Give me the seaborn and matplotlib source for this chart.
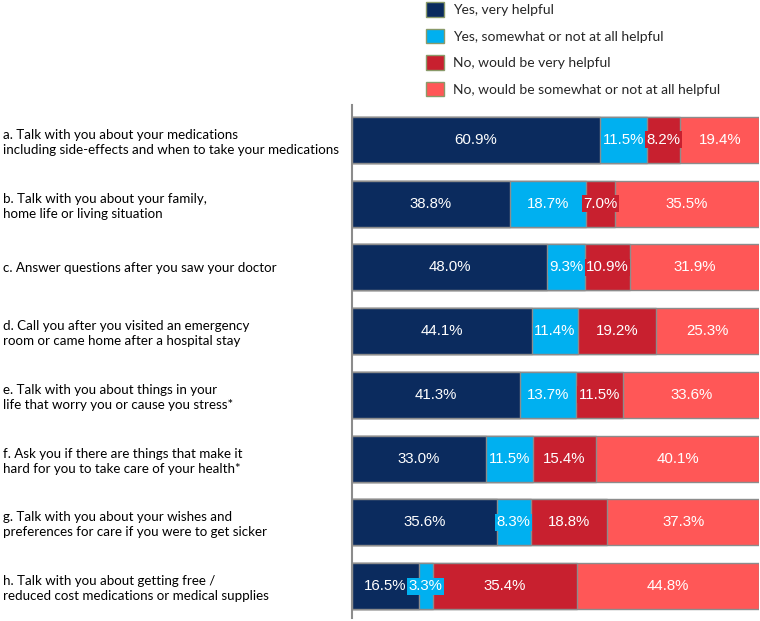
import numpy as np
import pandas as pd
import seaborn as sns
import matplotlib.pyplot as plt
from matplotlib.patches import Patch

questions = [
    'a. Talk with you about your medications\nincluding side-effects and when to take your medications',
    'b. Talk with you about your family,\nhome life or living situation',
    'c. Answer questions after you saw your doctor',
    'd. Call you after you visited an emergency\nroom or came home after a hospital stay',
    'e. Talk with you about things in your\nlife that worry you or cause you stress*',
    'f. Ask you if there are things that make it\nhard for you to take care of your health*',
    'g. Talk with you about your wishes and\npreferences for care if you were to get sicker',
    'h. Talk with you about getting free /\nreduced cost medications or medical supplies',
]
series_names = [
    'Yes, very helpful',
    'Yes, somewhat or not at all helpful',
    'No, would be very helpful',
    'No, would be somewhat or not at all helpful',
]
yes_very = [60.9, 38.8, 48.0, 44.1, 41.3, 33.0, 35.6, 16.5]
yes_somewhat = [11.5, 18.7, 9.3, 11.4, 13.7, 11.5, 8.3, 3.3]
no_very = [8.2, 7.0, 10.9, 19.2, 11.5, 15.4, 18.8, 35.4]
no_somewhat = [19.4, 35.5, 31.9, 25.3, 33.6, 40.1, 37.3, 44.8]

colors = ['#0b2b5e', '#00b0f0', '#c8202f', '#ff5757']

df = pd.DataFrame({'question': questions,
                   series_names[0]: yes_very,
                   series_names[1]: yes_somewhat,
                   series_names[2]: no_very,
                   series_names[3]: no_somewhat})
vals = df[series_names].to_numpy()
cum = vals.cumsum(axis=1)

sns.set_style('white')
plt.rcParams['font.family'] = ['Lato', 'DejaVu Sans']

fig = plt.figure(figsize=(7.6, 6.21), dpi=100)
ax = fig.add_axes([0.463, 0.005, 0.536, 0.826])

# draw cumulative bars from the longest to the shortest so they stack
for i in range(3, -1, -1):
    plot_df = pd.DataFrame({'question': questions, 'total': cum[:, i]})
    sns.barplot(data=plot_df, y='question', x='total', orient='h', color=colors[i],
                saturation=1, width=0.72, edgecolor='#8c8c8c', linewidth=1, ax=ax)

for r in range(len(questions)):
    for i in range(4):
        v = vals[r, i]
        center = cum[r, i] - v / 2
        small = v < 15
        ax.text(center, r, f'{v:.1f}%', ha='center', va='center', color='white',
                fontsize=10.8, family='Liberation Sans',
                bbox=dict(boxstyle='square,pad=0.1', fc=colors[i], ec='none') if small else None)

ax.set_xlim(0, 100)
ax.set_ylim(7.5, -0.55)
ax.set_xlabel('')
ax.set_ylabel('')
ax.set_xticks([])
sns.despine(ax=ax, top=True, right=True, bottom=True)
ax.spines['left'].set_color('#8c8c8c')
ax.spines['left'].set_linewidth(1.5)
ax.tick_params(axis='y', length=0, pad=251)
for lab in ax.get_yticklabels():
    lab.set_horizontalalignment('left')
    lab.set_fontsize(9.6)
    lab.set_color('black')
    lab.set_linespacing(1.3)

handles = [Patch(facecolor=c, edgecolor='#8a9a6a', linewidth=1) for c in colors]
fig.legend(handles, series_names, loc='upper left', bbox_to_anchor=(0.548, 1.012),
           frameon=False, fontsize=10, handlelength=1.25, handleheight=1.25,
           handletextpad=0.65, labelspacing=0.85, borderpad=0.2)

fig.savefig('out.png', dpi=100)
